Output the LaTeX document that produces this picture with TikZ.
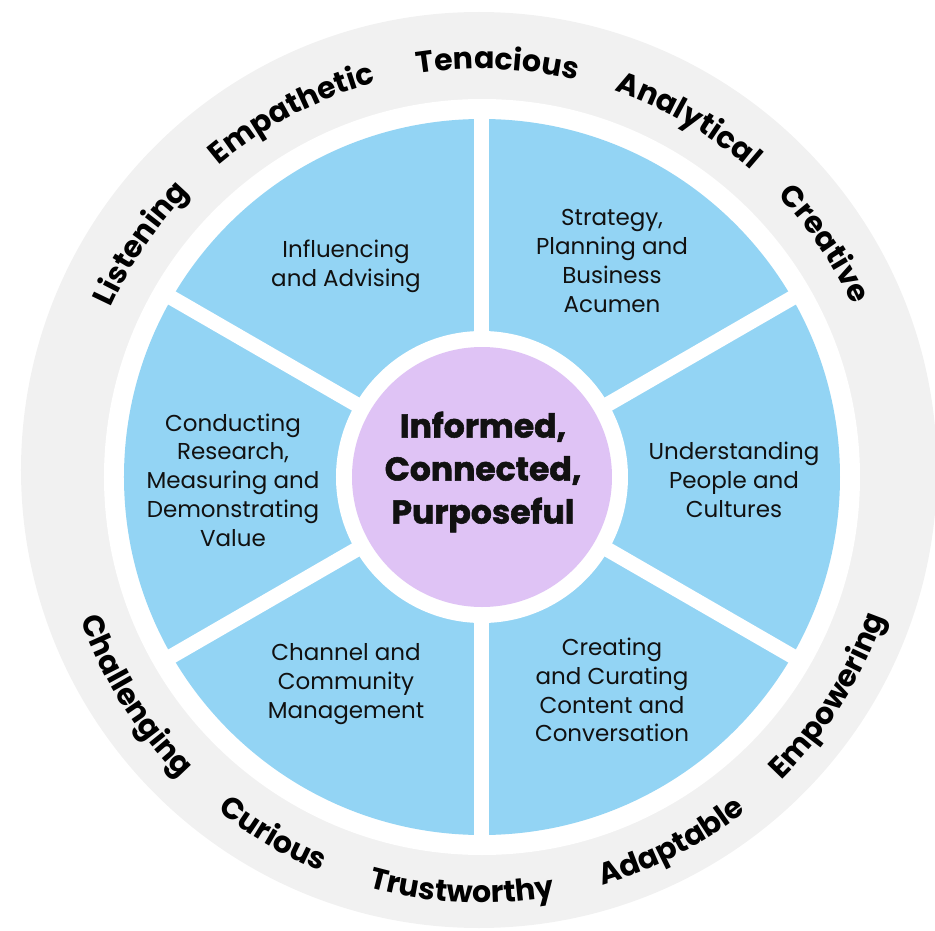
\documentclass[tikz,border=0pt]{standalone}
\usepackage{fontspec}
\setmainfont{Poppins}
\newfontfamily\corefont{Poppins}[BoldFeatures={FakeBold=1.6}]
\usetikzlibrary{decorations.text}

\definecolor{ringgrey}{HTML}{F1F1F1}
\definecolor{sectorblue}{HTML}{93D4F4}
\definecolor{corepurple}{HTML}{DFC3F5}
\definecolor{inkblack}{HTML}{111111}

\newcommand\wordfont{\bfseries\fontsize{30}{30}\selectfont}
% words round the grey ring, upper half read clockwise, lower half anticlockwise
\newcommand\topword[2]{\path[decorate,decoration={text along path,text align=center,text={|\wordfont|#2}}]
  (#1+45:408pt) arc[start angle=#1+45,end angle=#1-45,radius=408pt];}
\newcommand\lowword[2]{\path[decorate,decoration={text along path,text align=center,text={|\wordfont|#2}}]
  (#1-45:426pt) arc[start angle=#1-45,end angle=#1+45,radius=426pt];}

\begin{document}
\begin{tikzpicture}[x=1pt,y=1pt,
                    sector text/.style={align=center,text=inkblack,font=\fontsize{23}{28.7}\selectfont},
                    core text/.style={align=center,text=inkblack,font=\corefont\bfseries\fontsize{33}{43}\selectfont}]
  \useasboundingbox (-482,-453) rectangle (453,477);
  \fill[ringgrey] (-3,7) circle (458pt);
  \fill[white] (0,0) circle (378pt);
  \fill[sectorblue] (0,0) circle (358pt);
  \foreach \a in {30,90,...,330}
    \draw[white,line width=15pt] (0,0) -- (\a:366pt);
  \fill[white] (0,0) circle (146pt);
  \fill[corepurple] (0,0) circle (130pt);

  \node[core text] (core) at (1,5) {Informed,\\Connected,\\Purposeful};
  \node[sector text] (influencing) at (-136,211) {Influencing\\and Advising};
  \node[sector text] (strategy) at (130,216) {Strategy,\\Planning and\\Business\\Acumen};
  \node[sector text] (understanding) at (252,-3) {Understanding\\People and\\Cultures};
  \node[sector text] (conducting) at (-249,-3) {Conducting\\Research,\\Measuring and\\Demonstrating\\Value};
  \node[sector text] (channel) at (-136,-207) {Channel and\\Community\\Management};
  \node[sector text] (creating) at (130,-213) {Creating\\and Curating\\Content and\\Conversation};

  \topword{145.6}{Listening}
  \topword{117.6}{Empathetic}
  \topword{87.8}{Tenacious}
  \topword{59.9}{Analytical}
  \topword{34.2}{Creative}
  \lowword{-32.3}{Empowering}
  \lowword{-62.6}{Adaptable}
  \lowword{-92.8}{Trustworthy}
  \lowword{-120.3}{Curious}
  \lowword{-147.7}{Challenging}
\end{tikzpicture}
\end{document}
